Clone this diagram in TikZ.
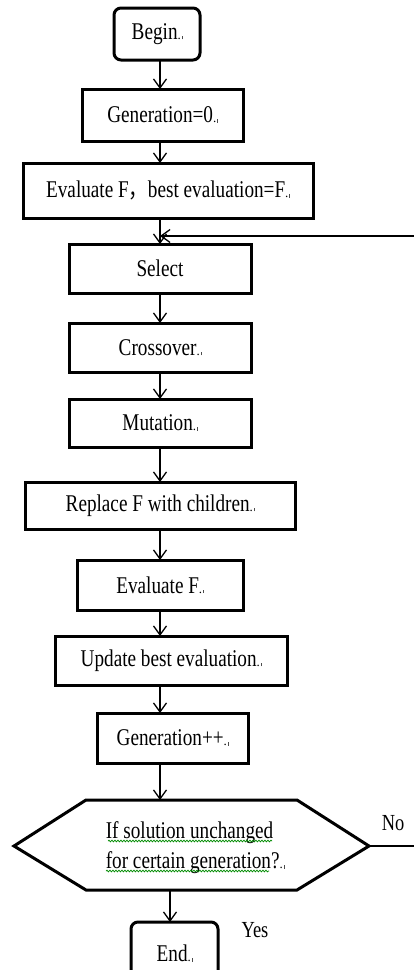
\documentclass[tikz,border=0pt]{standalone}
\usepackage{fontspec}
\setmainfont{Liberation Serif}
\newfontfamily\cjk{Noto Sans CJK SC}
\usetikzlibrary{arrows.meta,decorations.pathmorphing}
\newcommand{\sq}[1]{\scalebox{0.8}[1]{#1}}
\newcommand{\pmk}{{\fontsize{13}{13}\selectfont .\kern0.8pt\textcolor{black!70}{\rule{0.6pt}{3.5pt}}}}
\begin{document}
\begin{tikzpicture}[x=1pt,y=-1pt,
  box/.style={draw,line width=3pt,inner sep=0pt,outer sep=0pt,font=\fontsize{24}{28}\selectfont},
  rbox/.style={box,rounded corners=7pt},
  arr/.style={line width=1.3pt,-{Straight Barb[length=9pt,width=13pt]}},
  plain/.style={line width=1.3pt},
  lbl/.style={font=\fontsize{23}{30}\selectfont,inner sep=0pt},
  squig/.style={green!55!black,line width=0.7pt,decorate,decoration={snake,amplitude=0.9pt,segment length=3pt}}]
\clip (0,0) rectangle (414,970);
\fill[white] (0,0) rectangle (414,970);
\coordinate (ax) at (160,0);
% boxes
\node[rbox,minimum width=86pt,minimum height=52pt] (begin) at (157,34) {\sq{Begin}\pmk};
\node[box,minimum width=161pt,minimum height=52pt] (gen0) at (162.5,115) {\sq{Generation=0}\pmk};
\node[box,minimum width=290pt,minimum height=55pt] (eval) at (168,190.5) {\sq{Evaluate F{\cjk ，}best evaluation=F}\pmk};
\node[box,minimum width=182pt,minimum height=49pt] (select) at (160,268.5) {\sq{Select}};
\node[box,minimum width=182pt,minimum height=49pt] (cross) at (160,347.5) {\sq{Crossover}\pmk};
\node[box,minimum width=182pt,minimum height=48pt] (mut) at (160,423) {\sq{Mutation}\pmk};
\node[box,minimum width=270pt,minimum height=47pt] (repl) at (160,505.5) {\sq{Replace F with children}\pmk};
\node[box,minimum width=166pt,minimum height=50pt] (evalf) at (160,585) {\sq{Evaluate F}\pmk};
\node[box,minimum width=232pt,minimum height=49pt] (update) at (171,660.5) {\sq{Update best evaluation}\pmk};
\node[box,minimum width=151pt,minimum height=50pt] (genpp) at (172.5,738) {\sq{Generation++}\pmk};
\node[rbox,minimum width=87pt,minimum height=66pt] (end) at (174.5,955) {\raisebox{3pt}{\sq{End}\pmk}};
% decision hexagon
\coordinate (h1) at (86,800);
\coordinate (h2) at (297,800);
\coordinate (h3) at (369,846);
\coordinate (h4) at (297,890);
\coordinate (h5) at (86,890);
\coordinate (h6) at (14,846);
\draw[line width=3pt,line join=miter] (h1)--(h2)--(h3)--(h4)--(h5)--(h6)--cycle;
\node[lbl,font=\fontsize{24}{30}\selectfont,align=left] (dec) at (195,848)
  {\sq{If solution unchanged}\\\sq{for certain generation?}\pmk};
\draw[squig] (108,841) -- (272,841);
\draw[squig] (106,871) -- (269,871);
\coordinate (htop) at (160,800);
\coordinate (hbot) at (170,890);
% connectors
\draw[arr] (begin.south -| ax) -- (gen0.north -| ax);
\draw[arr] (gen0.south -| ax) -- (eval.north -| ax);
\draw[arr] (eval.south -| ax) -- (select.north -| ax);
\coordinate (fb) at (414,236);
\coordinate (fbend) at (160,236);
\draw[arr] (fb) -- (fbend);
\draw[arr] (select.south -| ax) -- (cross.north -| ax);
\draw[arr] (cross.south -| ax) -- (mut.north -| ax);
\draw[arr] (mut.south -| ax) -- (repl.north -| ax);
\draw[arr] (repl.south -| ax) -- (evalf.north -| ax);
\draw[arr] (evalf.south -| ax) -- (update.north -| ax);
\draw[arr] (update.south -| ax) -- (genpp.north -| ax);
\draw[arr] (genpp.south -| ax) -- (htop);
\draw[arr] (hbot) -- (end.north -| hbot);
\coordinate (noend) at (414,846);
\draw[plain] (h3) -- (noend);
% labels
\node[lbl] (no) at (393,823) {\sq{No}};
\node[lbl] (yes) at (255,930) {\sq{Yes}};
\end{tikzpicture}
\end{document}
